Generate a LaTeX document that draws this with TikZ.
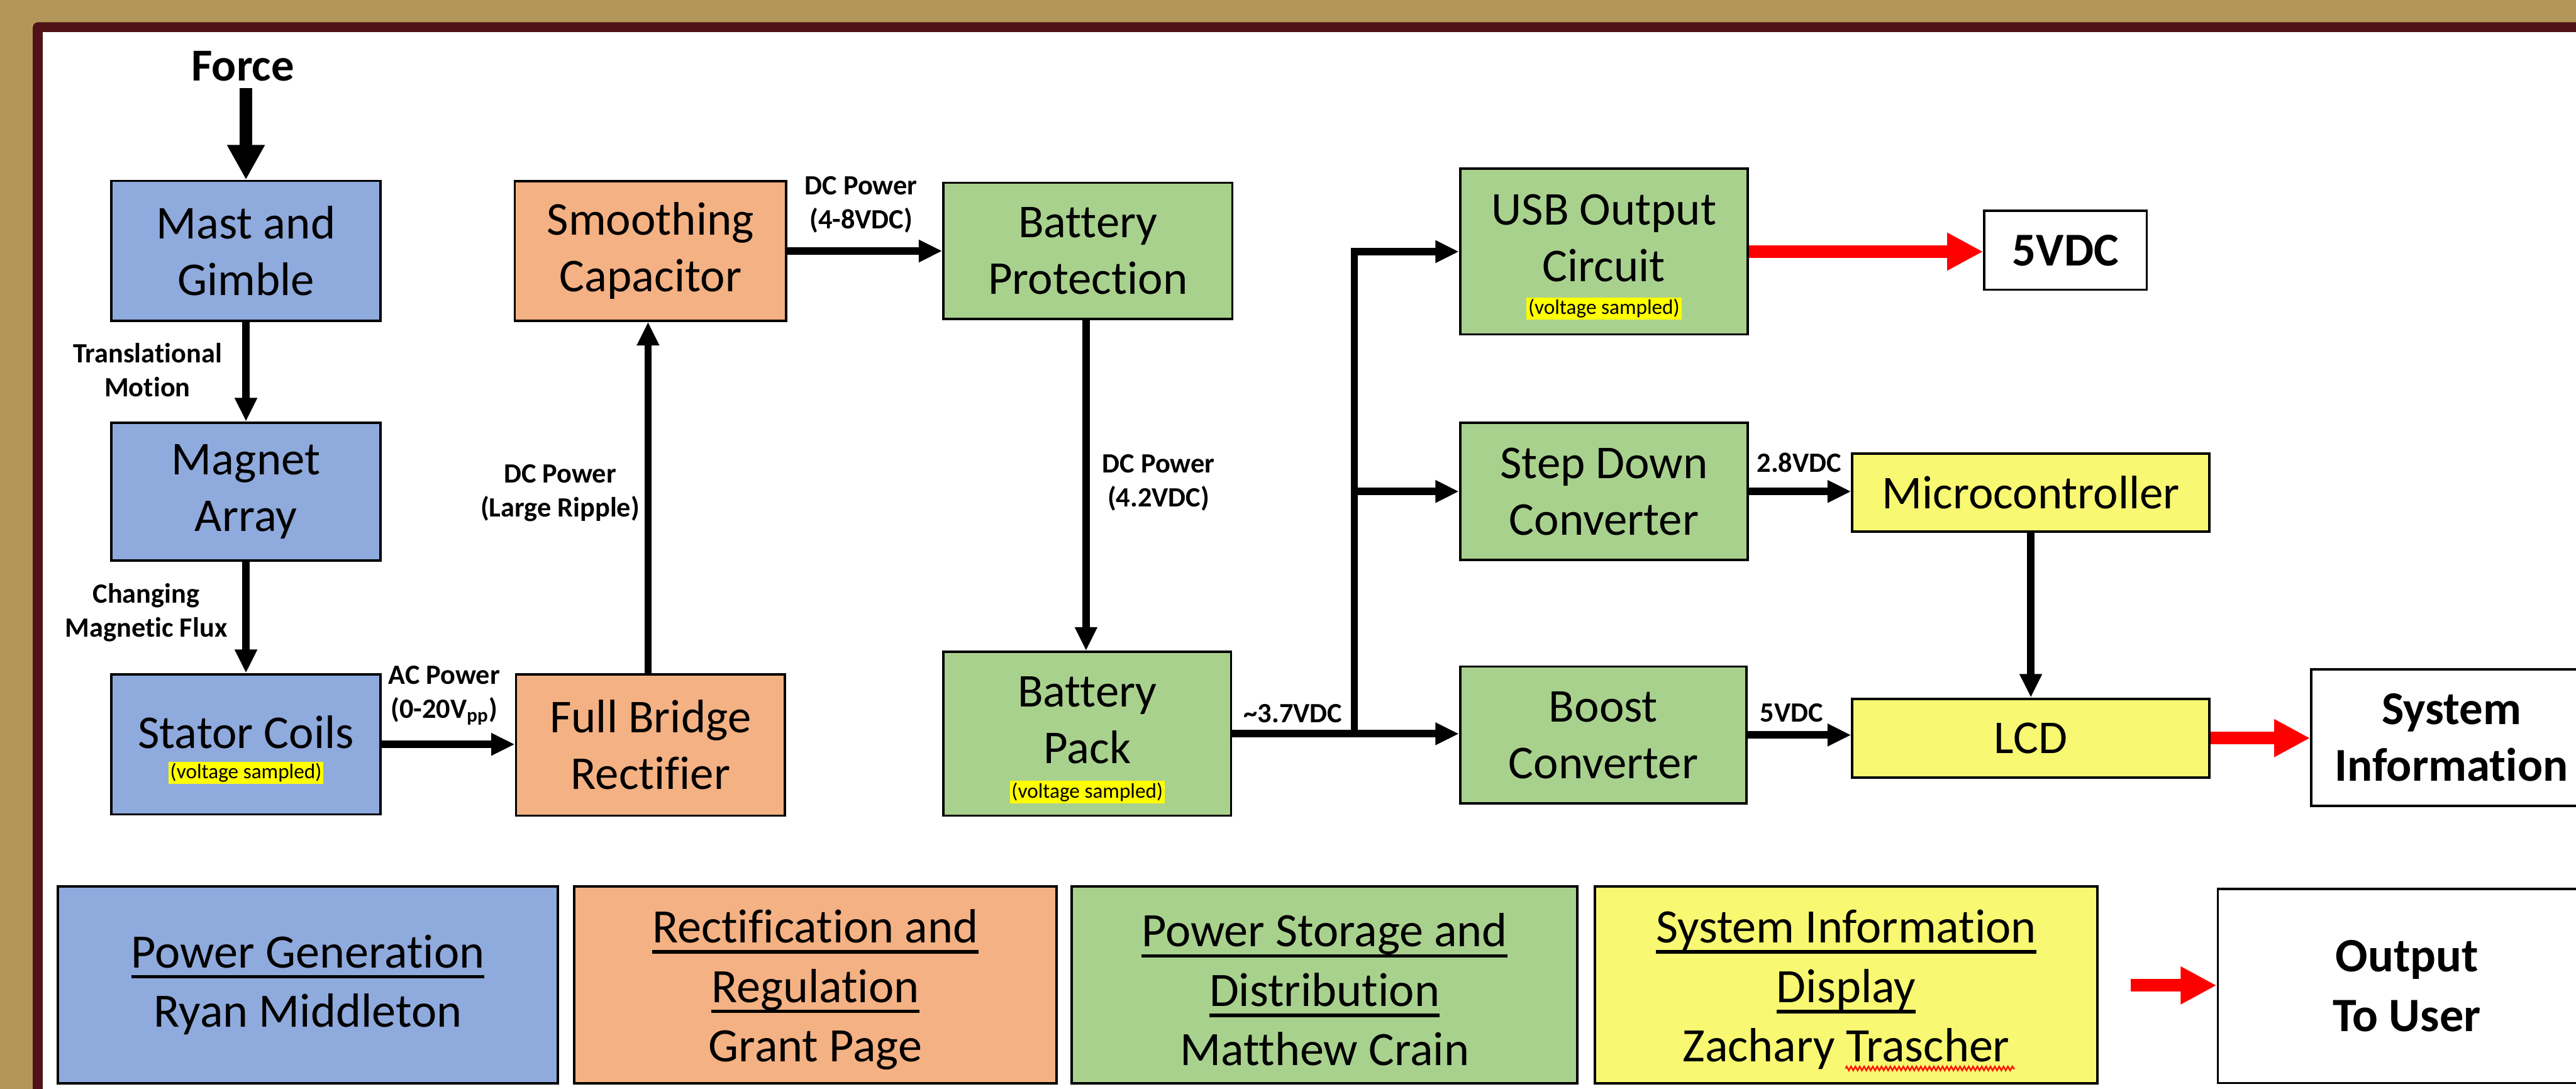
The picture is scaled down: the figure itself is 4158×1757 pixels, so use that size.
\documentclass[tikz,border=0pt]{standalone}
\usepackage{fontspec}
\setmainfont{Carlito}[Ligatures=NoCommon]
\usetikzlibrary{arrows.meta,decorations.pathmorphing}
\definecolor{gold}{HTML}{B3975A}
\definecolor{maroon}{HTML}{501216}
\definecolor{pblue}{HTML}{8FAADC}
\definecolor{porange}{HTML}{F4B183}
\definecolor{pgreen}{HTML}{A9D18E}
\definecolor{pyellow}{HTML}{F8F872}
\definecolor{hlyellow}{HTML}{FFFF00}
\definecolor{pred}{HTML}{FF0000}
\newcommand\bigfont{\fontsize{21.6}{26}\selectfont}
\newcommand\legfont{\fontsize{22}{27.3}\selectfont}
\newcommand\lblfont{\fontsize{12.8}{15.6}\selectfont\bfseries}
\newcommand\vsfont{\fontsize{9.6}{11}\selectfont}
\newcommand\vsamp{{\vsfont\setlength{\fboxsep}{0.8pt}\colorbox{hlyellow}{(voltage sampled)}}}
\newcommand\myul[1]{\leavevmode\setbox0=\hbox{#1}\rlap{\rule[-5pt]{\wd0}{1.6pt}}\box0}
\begin{document}
\begin{tikzpicture}[x=0.01cm,y=-0.01cm,
  box/.style={draw=black, line width=1.1pt, inner sep=0pt, align=center, font=\bigfont},
  legbox/.style={draw=black, line width=1.1pt, inner sep=0pt, align=center, font=\legfont, minimum height=3.18cm},
  txt/.style={inner sep=0pt, align=center, font=\bigfont},
  lbl/.style={inner sep=0pt, align=center, font=\lblfont},
  blk/.style={line width=0.12cm},
  arr/.style={line width=0.12cm, -{Triangle[length=0.38cm,width=0.34cm]}},
  bigarr/.style={line width=0.2cm, -{Triangle[length=0.56cm,width=0.57cm]}},
  redarr/.style={draw=pred, line width=0.2cm, -{Triangle[length=0.58cm,width=0.57cm]}}]
\useasboundingbox (0,0) rectangle (4158,1757);
\clip (0,0) rectangle (4158,1757);
% frame
\fill[gold] (0,0) rectangle (4158,1757);
\fill[maroon, rounded corners=0.08cm] (53,36) rectangle (4400,1950);
\fill[white] (69,52) rectangle (4400,1950);

% Force
\node[inner sep=0pt, font=\fontsize{21}{25}\selectfont\bfseries] (force) at (392,107) {Force};
\coordinate (fstart) at (397,142);

% power generation column
\node[box, fill=pblue, minimum width=4.34cm, minimum height=2.26cm] (mast) at (397,405) {Mast and\\Gimble};
\node[box, fill=pblue, minimum width=4.34cm, minimum height=2.22cm] (magnet) at (397,793) {Magnet\\Array};
\node[box, fill=pblue, minimum width=4.34cm, minimum height=2.26cm] (stator) at (397,1201) {};
\node[txt] (statort) at (397,1181) {Stator Coils};
\node[inner sep=0pt] (statorv) at (397,1247) {\vsamp};

% rectification
\node[box, fill=porange, minimum width=4.38cm, minimum height=2.25cm] (smooth) at (1050,405) {Smoothing\\Capacitor};
\node[box, fill=porange, minimum width=4.34cm, minimum height=2.28cm] (bridge) at (1050,1202) {Full Bridge\\Rectifier};

% storage
\node[box, fill=pgreen, minimum width=4.66cm, minimum height=2.20cm] (bprot) at (1756,405) {Battery\\Protection};
\node[box, fill=pgreen, minimum width=4.64cm, minimum height=2.64cm] (bpack) at (1755,1184) {};
\node[txt] (bpackt) at (1755,1162) {Battery\\Pack};
\node[inner sep=0pt] (bpackv) at (1755,1278) {\vsamp};

\node[box, fill=pgreen, minimum width=4.64cm, minimum height=2.67cm] (usb) at (2589,406) {};
\node[txt] (usbt) at (2589,384) {USB Output\\Circuit};
\node[inner sep=0pt] (usbv) at (2589,498) {\vsamp};
\node[box, fill=pgreen, minimum width=4.64cm, minimum height=2.21cm] (step) at (2589,793) {Step Down\\Converter};
\node[box, fill=pgreen, minimum width=4.62cm, minimum height=2.21cm] (boost) at (2588,1186) {Boost\\Converter};

% system information
\node[box, fill=pyellow, minimum width=5.76cm, minimum height=1.26cm] (micro) at (3278,795) {Microcontroller};
\node[box, fill=pyellow, minimum width=5.76cm, minimum height=1.27cm] (lcd) at (3278,1191) {LCD};

% outputs
\node[box, fill=white, minimum width=2.62cm, minimum height=1.27cm, font=\bigfont\bfseries] (v5) at (3334,404) {5VDC};
\node[box, fill=white, minimum width=4.52cm, minimum height=2.20cm, font=\bigfont\bfseries] (sysinfo) at (3957,1190) {System\\Information};

% labels
\node[lbl] (l1) at (238,597) {Translational\\Motion};
\node[lbl] (l2) at (236,988) {Changing\\Magnetic Flux};
\node[lbl] (l3) at (717,1122) {AC Power\\(0-20V\textsubscript{pp})};
\node[lbl] (l4) at (904,796) {DC Power\\(Large Ripple)};
\node[lbl] (l5) at (1390,330) {DC Power\\(4-8VDC)};
\node[lbl] (l6) at (1870,779) {DC Power\\(4.2VDC)};
\node[lbl] (l7) at (2087,1151) {\textasciitilde3.7VDC};
\node[lbl] (l8) at (2904,746) {2.8VDC};
\node[lbl] (l9) at (2892,1150) {5VDC};

% connectors
\draw[bigarr] (fstart) -- (mast.north);
\draw[arr] (mast.south) -- (magnet.north);
\draw[arr] (magnet.south) -- (stator.north);
\draw[arr] (stator.east) -- (stator.east -| bridge.west);
\draw[arr] ([xshift=-0.04cm]bridge.north) -- ([xshift=-0.04cm]bridge.north |- smooth.south);
\draw[arr] (smooth.east) -- (smooth.east -| bprot.west);
\draw[arr] ([xshift=-0.03cm]bprot.south) -- ([xshift=-0.03cm]bprot.south |- bpack.north);
\coordinate (busx) at (2186,0);
\draw[arr] (busx |- bpack.east) -- (busx |- usb.west) -- (usb.west);
\draw[arr] (bpack.east) -- (bpack.east -| boost.west);
\draw[arr] (busx |- step.west) -- (step.west);
\draw[arr] (step.east) -- (step.east -| micro.west);
\draw[arr] (boost.east) -- (boost.east -| lcd.west);
\draw[arr] (micro.south) -- (lcd.north);
\draw[redarr] (usb.east) -- (usb.east -| v5.west);
\draw[redarr] (lcd.east) -- (lcd.east -| sysinfo.west);

% legend
\node[legbox, fill=pblue, minimum width=8.07cm] (lg1) at (497,1589) {\myul{Power Generation}\\Ryan Middleton};
\node[legbox, fill=porange, minimum width=7.78cm] (lg2) at (1316,1589) {};
\node[inner sep=0pt, align=center, font=\legfont] (lg2t) at (1316,1597) {\myul{Rectification and}\\\myul{Regulation}\\Grant Page};
\node[legbox, fill=pgreen, minimum width=8.16cm] (lg3) at (2138,1589) {};
\node[inner sep=0pt, align=center, font=\legfont] (lg3t) at (2138,1597) {\myul{Power Storage and}\\\myul{Distribution}\\Matthew Crain};
\node[legbox, fill=pyellow, minimum width=8.11cm] (lg4) at (2980,1589) {};
\node[inner sep=0pt, align=center, font=\legfont] (lg4t) at (2980,1597) {\myul{System Information}\\\myul{Display}\\Zachary Trascher};
\node[legbox, fill=white, minimum width=6.10cm, minimum height=3.13cm, font=\legfont\bfseries] (lgout) at (3885,1591) {Output\\To User};
\coordinate (lgstart) at (3439,1590);
\draw[redarr] (lgstart) -- (lgstart -| lgout.west);
\draw[red!85!orange, line width=0.7pt, decorate, decoration={zigzag, segment length=2pt, amplitude=0.9pt}] (2979,1724) -- (3252,1724);
\end{tikzpicture}
\end{document}
